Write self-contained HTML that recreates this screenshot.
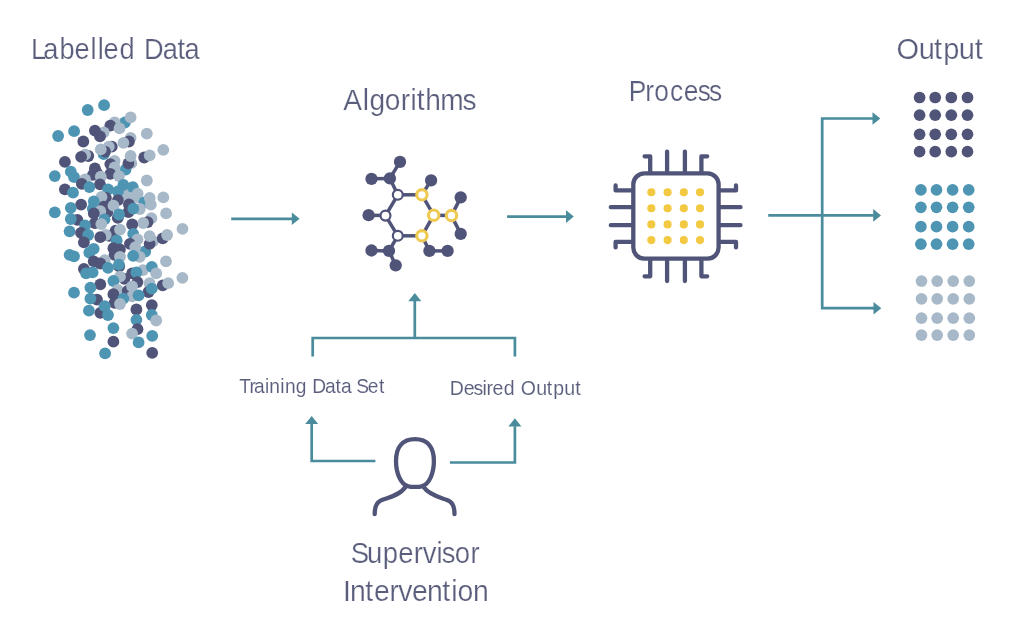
<!DOCTYPE html>
<html><head><meta charset="utf-8"><title>Supervised learning</title>
<style>
html,body{margin:0;padding:0;background:#fff;}
body{width:1024px;height:639px;overflow:hidden;font-family:"Liberation Sans",sans-serif;}
svg{display:block;opacity:0.999;will-change:opacity;filter:blur(0.35px)}
</style></head><body>
<svg width="1024" height="639" viewBox="0 0 1024 639">
<rect width="1024" height="639" fill="#fff"/>
<g id="scatter"><g transform="translate(0.3,0.7)">
<circle cx="87.4" cy="109.3" r="5.9" fill="#4e95b3"/>
<circle cx="103.8" cy="104.5" r="5.9" fill="#4e95b3"/>
<circle cx="124.6" cy="121.8" r="5.9" fill="#4e95b3"/>
<circle cx="114.3" cy="121.8" r="5.9" fill="#a7b9c8"/>
<circle cx="130.3" cy="116.7" r="5.9" fill="#a7b9c8"/>
<circle cx="110" cy="125" r="5.9" fill="#515479"/>
<circle cx="119.2" cy="127.7" r="5.9" fill="#a7b9c8"/>
<circle cx="57.8" cy="135.3" r="5.9" fill="#4e95b3"/>
<circle cx="73.8" cy="130.5" r="5.9" fill="#4e95b3"/>
<circle cx="103.4" cy="131.6" r="5.9" fill="#a7b9c8"/>
<circle cx="94.6" cy="129.9" r="5.9" fill="#515479"/>
<circle cx="99.7" cy="135.6" r="5.9" fill="#515479"/>
<circle cx="146.5" cy="132.9" r="5.9" fill="#a7b9c8"/>
<circle cx="130.3" cy="137.1" r="5.9" fill="#a7b9c8"/>
<circle cx="128.6" cy="140.8" r="5.9" fill="#515479"/>
<circle cx="123.1" cy="142.1" r="5.9" fill="#a7b9c8"/>
<circle cx="83" cy="140.8" r="5.9" fill="#515479"/>
<circle cx="103.4" cy="153.5" r="5.9" fill="#4e95b3"/>
<circle cx="111.5" cy="146" r="5.9" fill="#515479"/>
<circle cx="108.5" cy="146" r="5.9" fill="#a7b9c8"/>
<circle cx="104.7" cy="150.9" r="5.9" fill="#515479"/>
<circle cx="100.5" cy="148.7" r="5.9" fill="#a7b9c8"/>
<circle cx="163" cy="149.1" r="5.9" fill="#a7b9c8"/>
<circle cx="88" cy="155.3" r="5.9" fill="#515479"/>
<circle cx="84.8" cy="154" r="5.9" fill="#a7b9c8"/>
<circle cx="80.8" cy="156.2" r="5.9" fill="#515479"/>
<circle cx="143.9" cy="156.8" r="5.9" fill="#515479"/>
<circle cx="149.4" cy="154.6" r="5.9" fill="#a7b9c8"/>
<circle cx="114.3" cy="160.1" r="5.9" fill="#a7b9c8"/>
<circle cx="110" cy="163.4" r="5.9" fill="#515479"/>
<circle cx="125.3" cy="168.9" r="5.9" fill="#4e95b3"/>
<circle cx="131" cy="162.5" r="5.9" fill="#a7b9c8"/>
<circle cx="128.1" cy="162.7" r="5.9" fill="#515479"/>
<circle cx="130.3" cy="155.3" r="5.9" fill="#a7b9c8"/>
<circle cx="64.6" cy="161.2" r="5.9" fill="#515479"/>
<circle cx="114.3" cy="166.7" r="5.9" fill="#a7b9c8"/>
<circle cx="94.6" cy="167.8" r="5.9" fill="#515479"/>
<circle cx="70.5" cy="171" r="5.9" fill="#4e95b3"/>
<circle cx="54.5" cy="175.4" r="5.9" fill="#4e95b3"/>
<circle cx="73.8" cy="176.5" r="5.9" fill="#4e95b3"/>
<circle cx="92.6" cy="174.2" r="5.9" fill="#515479"/>
<circle cx="96.8" cy="172.5" r="5.9" fill="#515479"/>
<circle cx="110" cy="173.2" r="5.9" fill="#515479"/>
<circle cx="100.5" cy="175.9" r="5.9" fill="#a7b9c8"/>
<circle cx="118.7" cy="175.4" r="5.9" fill="#a7b9c8"/>
<circle cx="146.5" cy="179.8" r="5.9" fill="#a7b9c8"/>
<circle cx="84.8" cy="178.7" r="5.9" fill="#a7b9c8"/>
<circle cx="81.5" cy="183.1" r="5.9" fill="#515479"/>
<circle cx="99.7" cy="183.6" r="5.9" fill="#515479"/>
<circle cx="89.1" cy="186.4" r="5.9" fill="#4e95b3"/>
<circle cx="124.8" cy="193.5" r="5.9" fill="#a7b9c8"/>
<circle cx="133" cy="198" r="5.9" fill="#a7b9c8"/>
<circle cx="123.1" cy="184.2" r="5.9" fill="#4e95b3"/>
<circle cx="132.5" cy="186.4" r="5.9" fill="#4e95b3"/>
<circle cx="107.8" cy="188.6" r="5.9" fill="#4e95b3"/>
<circle cx="117.6" cy="190.8" r="5.9" fill="#4e95b3"/>
<circle cx="64.6" cy="188.6" r="5.9" fill="#515479"/>
<circle cx="72.7" cy="191.9" r="5.9" fill="#4e95b3"/>
<circle cx="137.3" cy="193" r="5.9" fill="#a7b9c8"/>
<circle cx="105.6" cy="197.3" r="5.9" fill="#515479"/>
<circle cx="101.2" cy="196.2" r="5.9" fill="#a7b9c8"/>
<circle cx="143.9" cy="201.7" r="5.9" fill="#4e95b3"/>
<circle cx="149.4" cy="197.3" r="5.9" fill="#a7b9c8"/>
<circle cx="150.5" cy="204" r="5.9" fill="#a7b9c8"/>
<circle cx="163" cy="196.7" r="5.9" fill="#a7b9c8"/>
<circle cx="117.6" cy="199.5" r="5.9" fill="#515479"/>
<circle cx="103.5" cy="206" r="5.9" fill="#515479"/>
<circle cx="107" cy="211.5" r="5.9" fill="#515479"/>
<circle cx="93.5" cy="200.6" r="5.9" fill="#4e95b3"/>
<circle cx="80.8" cy="203.9" r="5.9" fill="#515479"/>
<circle cx="70.5" cy="207.2" r="5.9" fill="#4e95b3"/>
<circle cx="113.2" cy="205" r="5.9" fill="#a7b9c8"/>
<circle cx="128.6" cy="203.8" r="5.9" fill="#515479"/>
<circle cx="128" cy="211.5" r="5.9" fill="#515479"/>
<circle cx="139.5" cy="208.3" r="5.9" fill="#a7b9c8"/>
<circle cx="133" cy="208" r="5.9" fill="#4e95b3"/>
<circle cx="54.5" cy="211.6" r="5.9" fill="#4e95b3"/>
<circle cx="92.5" cy="208" r="5.9" fill="#4e95b3"/>
<circle cx="100" cy="210.5" r="5.9" fill="#a7b9c8"/>
<circle cx="93.5" cy="212.7" r="5.9" fill="#515479"/>
<circle cx="117.5" cy="217.2" r="5.9" fill="#515479"/>
<circle cx="118.7" cy="213.8" r="5.9" fill="#4e95b3"/>
<circle cx="104.2" cy="218.6" r="5.9" fill="#4e95b3"/>
<circle cx="165.8" cy="212.7" r="5.9" fill="#a7b9c8"/>
<circle cx="151.1" cy="217.5" r="5.9" fill="#a7b9c8"/>
<circle cx="147.3" cy="221.4" r="5.9" fill="#515479"/>
<circle cx="142.9" cy="222.3" r="5.9" fill="#a7b9c8"/>
<circle cx="77.1" cy="219.2" r="5.9" fill="#515479"/>
<circle cx="70.5" cy="218.3" r="5.9" fill="#4e95b3"/>
<circle cx="94.5" cy="222.5" r="5.9" fill="#515479"/>
<circle cx="84.8" cy="224.7" r="5.9" fill="#4e95b3"/>
<circle cx="101" cy="223.4" r="5.9" fill="#a7b9c8"/>
<circle cx="131.9" cy="223.8" r="5.9" fill="#515479"/>
<circle cx="182.2" cy="228.2" r="5.9" fill="#a7b9c8"/>
</g><g transform="translate(0.2,0.8)">
<circle cx="69.4" cy="230.5" r="5.9" fill="#4e95b3"/>
<circle cx="80.8" cy="232" r="5.9" fill="#515479"/>
<circle cx="88" cy="234.2" r="5.9" fill="#4e95b3"/>
<circle cx="115.4" cy="229.9" r="5.9" fill="#515479"/>
<circle cx="119.8" cy="228.8" r="5.9" fill="#a7b9c8"/>
<circle cx="109" cy="235" r="5.9" fill="#515479"/>
<circle cx="105.6" cy="234.2" r="5.9" fill="#a7b9c8"/>
<circle cx="100.1" cy="236.4" r="5.9" fill="#515479"/>
<circle cx="133" cy="233.1" r="5.9" fill="#4e95b3"/>
<circle cx="145" cy="250.7" r="5.9" fill="#4e95b3"/>
<circle cx="152.9" cy="240.3" r="5.9" fill="#a7b9c8"/>
<circle cx="149.4" cy="243" r="5.9" fill="#515479"/>
<circle cx="137.3" cy="238.6" r="5.9" fill="#a7b9c8"/>
<circle cx="149.4" cy="235.3" r="5.9" fill="#a7b9c8"/>
<circle cx="162.5" cy="237.5" r="5.9" fill="#515479"/>
<circle cx="166.9" cy="234.2" r="5.9" fill="#a7b9c8"/>
<circle cx="83.7" cy="241.5" r="5.9" fill="#515479"/>
<circle cx="116.5" cy="239.7" r="5.9" fill="#4e95b3"/>
<circle cx="129.7" cy="243" r="5.9" fill="#515479"/>
<circle cx="135.1" cy="246.3" r="5.9" fill="#a7b9c8"/>
<circle cx="93.5" cy="248" r="5.9" fill="#4e95b3"/>
<circle cx="89.1" cy="251.8" r="5.9" fill="#4e95b3"/>
<circle cx="119.7" cy="248.6" r="5.9" fill="#515479"/>
<circle cx="113.2" cy="247.4" r="5.9" fill="#515479"/>
<circle cx="69.4" cy="254" r="5.9" fill="#4e95b3"/>
<circle cx="73.8" cy="255.5" r="5.9" fill="#4e95b3"/>
<circle cx="114.3" cy="254" r="5.9" fill="#515479"/>
<circle cx="119.8" cy="256.1" r="5.9" fill="#a7b9c8"/>
<circle cx="139.5" cy="256.1" r="5.9" fill="#a7b9c8"/>
<circle cx="133" cy="255" r="5.9" fill="#4e95b3"/>
<circle cx="165.8" cy="260.5" r="5.9" fill="#a7b9c8"/>
<circle cx="104.5" cy="259.4" r="5.9" fill="#a7b9c8"/>
<circle cx="93.5" cy="260.5" r="5.9" fill="#515479"/>
<circle cx="100.1" cy="262.7" r="5.9" fill="#515479"/>
<circle cx="119" cy="265.5" r="5.9" fill="#515479"/>
<circle cx="118.7" cy="263.8" r="5.9" fill="#4e95b3"/>
<circle cx="107.8" cy="267.1" r="5.9" fill="#4e95b3"/>
<circle cx="83.7" cy="268.2" r="5.9" fill="#515479"/>
<circle cx="85.9" cy="272.6" r="5.9" fill="#4e95b3"/>
<circle cx="92.4" cy="271.5" r="5.9" fill="#4e95b3"/>
<circle cx="131.9" cy="272.6" r="5.9" fill="#515479"/>
<circle cx="142.8" cy="269.3" r="5.9" fill="#a7b9c8"/>
<circle cx="136.2" cy="271.5" r="5.9" fill="#4e95b3"/>
<circle cx="151.6" cy="266" r="5.9" fill="#4e95b3"/>
<circle cx="156" cy="272.6" r="5.9" fill="#a7b9c8"/>
<circle cx="124.2" cy="278" r="5.9" fill="#515479"/>
<circle cx="119.8" cy="275.9" r="5.9" fill="#a7b9c8"/>
<circle cx="113.2" cy="280.2" r="5.9" fill="#4e95b3"/>
<circle cx="182.2" cy="277" r="5.9" fill="#a7b9c8"/>
<circle cx="162.5" cy="284.6" r="5.9" fill="#515479"/>
<circle cx="168" cy="282.4" r="5.9" fill="#a7b9c8"/>
<circle cx="137.3" cy="281.3" r="5.9" fill="#515479"/>
<circle cx="149.4" cy="282.4" r="5.9" fill="#a7b9c8"/>
<circle cx="100.1" cy="283.5" r="5.9" fill="#515479"/>
<circle cx="90.2" cy="286.8" r="5.9" fill="#4e95b3"/>
<circle cx="148.3" cy="291.2" r="5.9" fill="#515479"/>
<circle cx="151.6" cy="287.9" r="5.9" fill="#4e95b3"/>
<circle cx="117.6" cy="289" r="5.9" fill="#a7b9c8"/>
<circle cx="127.5" cy="290.1" r="5.9" fill="#515479"/>
<circle cx="131.9" cy="285.7" r="5.9" fill="#a7b9c8"/>
<circle cx="73.8" cy="291.9" r="5.9" fill="#4e95b3"/>
<circle cx="113.2" cy="293.4" r="5.9" fill="#515479"/>
<circle cx="131.9" cy="295.6" r="5.9" fill="#a7b9c8"/>
<circle cx="138.4" cy="294.5" r="5.9" fill="#4e95b3"/>
<circle cx="96.8" cy="298.9" r="5.9" fill="#515479"/>
<circle cx="90.2" cy="297.8" r="5.9" fill="#4e95b3"/>
<circle cx="123.1" cy="297.8" r="5.9" fill="#4e95b3"/>
<circle cx="114.3" cy="302.1" r="5.9" fill="#515479"/>
<circle cx="119.8" cy="303.2" r="5.9" fill="#a7b9c8"/>
<circle cx="100.1" cy="312" r="5.9" fill="#515479"/>
<circle cx="104.5" cy="305.4" r="5.9" fill="#4e95b3"/>
<circle cx="151.6" cy="304.3" r="5.9" fill="#515479"/>
<circle cx="136.2" cy="308.7" r="5.9" fill="#515479"/>
<circle cx="88.7" cy="309.8" r="5.9" fill="#4e95b3"/>
<circle cx="107.8" cy="314.2" r="5.9" fill="#4e95b3"/>
<circle cx="151.6" cy="314.2" r="5.9" fill="#4e95b3"/>
<circle cx="136.2" cy="319" r="5.9" fill="#4e95b3"/>
<circle cx="156" cy="319.7" r="5.9" fill="#a7b9c8"/>
<circle cx="113.2" cy="327.3" r="5.9" fill="#4e95b3"/>
<circle cx="137.3" cy="328.4" r="5.9" fill="#515479"/>
<circle cx="131.9" cy="332.8" r="5.9" fill="#a7b9c8"/>
<circle cx="89.8" cy="334.3" r="5.9" fill="#4e95b3"/>
<circle cx="152" cy="335" r="5.9" fill="#4e95b3"/>
<circle cx="113.2" cy="340.9" r="5.9" fill="#515479"/>
<circle cx="138.4" cy="341.6" r="5.9" fill="#4e95b3"/>
<circle cx="104.9" cy="352.5" r="5.9" fill="#4e95b3"/>
<circle cx="152" cy="352.1" r="5.9" fill="#515479"/>
</g></g>
<g id="arrows">
<line x1="231.2" y1="218.8" x2="292.3" y2="218.8" stroke="#4a8b9c" stroke-width="2.7"/><polygon points="291.8,212.5 299.6,218.8 291.8,225.10000000000002" fill="#4a8b9c"/>
<line x1="507.1" y1="216.6" x2="566.5" y2="216.6" stroke="#4a8b9c" stroke-width="2.7"/><polygon points="566.0,210.29999999999998 573.8,216.6 566.0,222.9" fill="#4a8b9c"/>
<path d="M873,118.5 H822.2 V308.2 H874" fill="none" stroke="#4a8b9c" stroke-width="2.7" stroke-linejoin="miter"/>
<line x1="873" y1="118.5" x2="873.0" y2="118.5" stroke="#4a8b9c" stroke-width="2.7"/><polygon points="872.5,112.2 880.3,118.5 872.5,124.8" fill="#4a8b9c"/>
<line x1="768.2" y1="215.4" x2="873.7" y2="215.4" stroke="#4a8b9c" stroke-width="2.7"/><polygon points="873.2,209.1 881,215.4 873.2,221.70000000000002" fill="#4a8b9c"/>
<line x1="873.5" y1="308.2" x2="874.0" y2="308.2" stroke="#4a8b9c" stroke-width="2.7"/><polygon points="873.5,301.9 881.3,308.2 873.5,314.5" fill="#4a8b9c"/>
<path d="M312.7,356.5 V338 H514.9 V356.5" fill="none" stroke="#4a8b9c" stroke-width="2.7"/>
<line x1="414.8" y1="338" x2="414.8" y2="300.7" stroke="#4a8b9c" stroke-width="2.7"/><polygon points="408.3,301.2 414.8,293 421.3,301.2" fill="#4a8b9c"/>
<path d="M375.4,461 H311.7 V424" fill="none" stroke="#4a8b9c" stroke-width="2.7"/>
<line x1="311.7" y1="424" x2="311.7" y2="423.59999999999997" stroke="#4a8b9c" stroke-width="2.7"/><polygon points="305.2,424.09999999999997 311.7,415.9 318.2,424.09999999999997" fill="#4a8b9c"/>
<path d="M449.9,462.5 H514.9 V426.5" fill="none" stroke="#4a8b9c" stroke-width="2.7"/>
<line x1="514.9" y1="426.5" x2="514.9" y2="426.0" stroke="#4a8b9c" stroke-width="2.7"/><polygon points="508.4,426.5 514.9,418.3 521.4,426.5" fill="#4a8b9c"/>
</g>
<g id="molecule">
<line x1="400" y1="161.9" x2="389.9" y2="178.4" stroke="#515479" stroke-width="3.5"/>
<line x1="371.5" y1="178.8" x2="389.9" y2="178.4" stroke="#515479" stroke-width="3.5"/>
<line x1="389.9" y1="178.4" x2="397.8" y2="194.8" stroke="#515479" stroke-width="3.5"/>
<line x1="397.8" y1="194.8" x2="421.9" y2="194.8" stroke="#515479" stroke-width="3.5"/>
<line x1="421.9" y1="194.8" x2="433.7" y2="215.2" stroke="#515479" stroke-width="3.5"/>
<line x1="433.7" y1="215.2" x2="421.9" y2="235.8" stroke="#515479" stroke-width="3.5"/>
<line x1="421.9" y1="235.8" x2="397.8" y2="235.8" stroke="#515479" stroke-width="3.5"/>
<line x1="397.8" y1="235.8" x2="385.5" y2="215.6" stroke="#515479" stroke-width="3.5"/>
<line x1="385.5" y1="215.6" x2="397.8" y2="194.8" stroke="#515479" stroke-width="3.5"/>
<line x1="421.9" y1="194.8" x2="431.1" y2="180.4" stroke="#515479" stroke-width="3.5"/>
<line x1="433.7" y1="215.2" x2="451.5" y2="215.6" stroke="#515479" stroke-width="3.5"/>
<line x1="451.5" y1="215.6" x2="460.7" y2="197.4" stroke="#515479" stroke-width="3.5"/>
<line x1="451.5" y1="215.6" x2="460.7" y2="233.9" stroke="#515479" stroke-width="3.5"/>
<line x1="368.6" y1="215.2" x2="385.5" y2="215.6" stroke="#515479" stroke-width="3.5"/>
<line x1="397.8" y1="235.8" x2="389" y2="250.9" stroke="#515479" stroke-width="3.5"/>
<line x1="389" y1="250.9" x2="371.5" y2="250.5" stroke="#515479" stroke-width="3.5"/>
<line x1="389" y1="250.9" x2="395.7" y2="265.3" stroke="#515479" stroke-width="3.5"/>
<line x1="421.9" y1="235.8" x2="429.4" y2="250.9" stroke="#515479" stroke-width="3.5"/>
<line x1="429.4" y1="250.9" x2="447.6" y2="250.9" stroke="#515479" stroke-width="3.5"/>
<circle cx="400" cy="161.9" r="6.15" fill="#515479"/>
<circle cx="389.9" cy="178.4" r="6.15" fill="#515479"/>
<circle cx="371.5" cy="178.8" r="6.15" fill="#515479"/>
<circle cx="431.1" cy="180.4" r="6.15" fill="#515479"/>
<circle cx="460.7" cy="197.4" r="6.15" fill="#515479"/>
<circle cx="460.7" cy="233.9" r="6.15" fill="#515479"/>
<circle cx="368.6" cy="215.2" r="6.15" fill="#515479"/>
<circle cx="371.5" cy="250.5" r="6.15" fill="#515479"/>
<circle cx="389" cy="250.9" r="6.15" fill="#515479"/>
<circle cx="395.7" cy="265.3" r="6.15" fill="#515479"/>
<circle cx="429.4" cy="250.9" r="6.15" fill="#515479"/>
<circle cx="447.6" cy="250.9" r="6.15" fill="#515479"/>
<circle cx="397.8" cy="194.8" r="4.95" fill="#fff" stroke="#515479" stroke-width="2.2"/>
<circle cx="397.8" cy="235.8" r="4.95" fill="#fff" stroke="#515479" stroke-width="2.2"/>
<circle cx="385.5" cy="215.6" r="4.95" fill="#fff" stroke="#515479" stroke-width="2.2"/>
<circle cx="421.9" cy="194.8" r="5.2" fill="#fff" stroke="#efca52" stroke-width="3.1"/>
<circle cx="433.7" cy="215.2" r="5.2" fill="#fff" stroke="#efca52" stroke-width="3.1"/>
<circle cx="421.9" cy="235.8" r="5.2" fill="#fff" stroke="#efca52" stroke-width="3.1"/>
<circle cx="451.5" cy="215.6" r="5.2" fill="#fff" stroke="#efca52" stroke-width="3.1"/>
</g>
<g id="chip" fill="none" stroke="#515479" stroke-width="4.3" stroke-linecap="round" stroke-linejoin="round">
<rect x="633.3" y="173.4" width="85.3" height="85.2" rx="11" ry="11"/>
<path d="M644.6,156.3 H650.2 V172 M667.1,151.6 V172 M684.9,151.6 V172 M707.2,156.3 H701.4 V172"/>
<path d="M644.6,276.3 H650.2 V260 M667.1,281 V260 M684.9,281 V260 M707.2,276.3 H701.4 V260"/>
<path d="M615.6,185.4 V190.4 H631.5 M610.8,207.2 H631.5 M610.8,225.2 H631.5 M615.6,247.4 V241.9 H631.5"/>
<path d="M736,185.4 V190.4 H720.3 M740.5,207.2 H720.3 M740.5,225.2 H720.3 M736,247.4 V241.9 H720.3"/>
</g>
<g fill="#f2c941">
<circle cx="651.3" cy="192.3" r="4.05"/>
<circle cx="667.6" cy="192.3" r="4.05"/>
<circle cx="683.8" cy="192.3" r="4.05"/>
<circle cx="700" cy="192.3" r="4.05"/>
<circle cx="651.3" cy="208.3" r="4.05"/>
<circle cx="667.6" cy="208.3" r="4.05"/>
<circle cx="683.8" cy="208.3" r="4.05"/>
<circle cx="700" cy="208.3" r="4.05"/>
<circle cx="651.3" cy="224.4" r="4.05"/>
<circle cx="667.6" cy="224.4" r="4.05"/>
<circle cx="683.8" cy="224.4" r="4.05"/>
<circle cx="700" cy="224.4" r="4.05"/>
<circle cx="651.3" cy="240.1" r="4.05"/>
<circle cx="667.6" cy="240.1" r="4.05"/>
<circle cx="683.8" cy="240.1" r="4.05"/>
<circle cx="700" cy="240.1" r="4.05"/>
</g>
<g id="out">
<circle cx="919.6" cy="97.5" r="5.85" fill="#515479"/><circle cx="935.2" cy="97.5" r="5.85" fill="#515479"/><circle cx="951.3" cy="97.5" r="5.85" fill="#515479"/><circle cx="967.5" cy="97.5" r="5.85" fill="#515479"/><circle cx="919.6" cy="115.2" r="5.85" fill="#515479"/><circle cx="935.2" cy="115.2" r="5.85" fill="#515479"/><circle cx="951.3" cy="115.2" r="5.85" fill="#515479"/><circle cx="967.5" cy="115.2" r="5.85" fill="#515479"/><circle cx="919.6" cy="134.3" r="5.85" fill="#515479"/><circle cx="935.2" cy="134.3" r="5.85" fill="#515479"/><circle cx="951.3" cy="134.3" r="5.85" fill="#515479"/><circle cx="967.5" cy="134.3" r="5.85" fill="#515479"/><circle cx="919.6" cy="151.7" r="5.85" fill="#515479"/><circle cx="935.2" cy="151.7" r="5.85" fill="#515479"/><circle cx="951.3" cy="151.7" r="5.85" fill="#515479"/><circle cx="967.5" cy="151.7" r="5.85" fill="#515479"/>
<circle cx="920.9" cy="189.9" r="5.85" fill="#4e95b3"/><circle cx="936.5" cy="189.9" r="5.85" fill="#4e95b3"/><circle cx="952.6" cy="189.9" r="5.85" fill="#4e95b3"/><circle cx="968.7" cy="189.9" r="5.85" fill="#4e95b3"/><circle cx="920.9" cy="207.3" r="5.85" fill="#4e95b3"/><circle cx="936.5" cy="207.3" r="5.85" fill="#4e95b3"/><circle cx="952.6" cy="207.3" r="5.85" fill="#4e95b3"/><circle cx="968.7" cy="207.3" r="5.85" fill="#4e95b3"/><circle cx="920.9" cy="226.7" r="5.85" fill="#4e95b3"/><circle cx="936.5" cy="226.7" r="5.85" fill="#4e95b3"/><circle cx="952.6" cy="226.7" r="5.85" fill="#4e95b3"/><circle cx="968.7" cy="226.7" r="5.85" fill="#4e95b3"/><circle cx="920.9" cy="244.2" r="5.85" fill="#4e95b3"/><circle cx="936.5" cy="244.2" r="5.85" fill="#4e95b3"/><circle cx="952.6" cy="244.2" r="5.85" fill="#4e95b3"/><circle cx="968.7" cy="244.2" r="5.85" fill="#4e95b3"/>
<circle cx="921.5" cy="281.1" r="5.85" fill="#a7b9c8"/><circle cx="937.2" cy="281.1" r="5.85" fill="#a7b9c8"/><circle cx="953.2" cy="281.1" r="5.85" fill="#a7b9c8"/><circle cx="969.3" cy="281.1" r="5.85" fill="#a7b9c8"/><circle cx="921.5" cy="298.8" r="5.85" fill="#a7b9c8"/><circle cx="937.2" cy="298.8" r="5.85" fill="#a7b9c8"/><circle cx="953.2" cy="298.8" r="5.85" fill="#a7b9c8"/><circle cx="969.3" cy="298.8" r="5.85" fill="#a7b9c8"/><circle cx="921.5" cy="318.2" r="5.85" fill="#a7b9c8"/><circle cx="937.2" cy="318.2" r="5.85" fill="#a7b9c8"/><circle cx="953.2" cy="318.2" r="5.85" fill="#a7b9c8"/><circle cx="969.3" cy="318.2" r="5.85" fill="#a7b9c8"/><circle cx="921.5" cy="335.1" r="5.85" fill="#a7b9c8"/><circle cx="937.2" cy="335.1" r="5.85" fill="#a7b9c8"/><circle cx="953.2" cy="335.1" r="5.85" fill="#a7b9c8"/><circle cx="969.3" cy="335.1" r="5.85" fill="#a7b9c8"/>
</g>
<g id="person" fill="none" stroke="#515479" stroke-width="4.3" stroke-linecap="round" stroke-linejoin="round">
<path d="M415,439.1 C402.5,439.1 396,447 396,461 C396,473.5 401,484.5 408,486.2 C411,487.2 419,487.2 422,486.2 C429,484.5 433.9,473.5 433.9,461 C433.9,447 427.5,439.1 415,439.1 Z"/>
<path d="M405.7,486.8 C400,495 390,497.2 383.8,499.3 C378,501.3 374.7,504 374.7,514.2"/>
<path d="M423.4,486.8 C429,495 440,497.5 446.4,499.8 C452,501.8 454.5,505 454.5,514.2"/>
</g>
<g id="text" font-family="'Liberation Sans', sans-serif" style="will-change:transform">
<text transform="matrix(0.939,0,0,1,0,0)" x="32.92 46.01 63.44 79.45 96.29 104.12 110.12 127.19 143.32 153.25 173.22 188.94 196.59" y="58.8" font-size="29" fill="#5a5e7c" stroke="#fff" stroke-width="0.22">Labelled Data</text>
<text transform="matrix(0.97,0,0,1,0,0)" x="353.99 373.99 380.87 396.73 413.11 423.23 429.62 438.47 453.89 476.74" y="110.4" font-size="29" fill="#5a5e7c" stroke="#fff" stroke-width="0.22">Algorithms</text>
<text transform="matrix(0.909,0,0,1,0,0)" x="691.77 709.85 719.82 737.02 752.09 767.73 780.05" y="101.4" font-size="29" fill="#5a5e7c" stroke="#fff" stroke-width="0.22">Process</text>
<text transform="matrix(1.0,0,0,1,0,0)" x="896.38 918.81 933.96 943.16 958.86 974.76" y="59.4" font-size="29" fill="#5a5e7c" stroke="#fff" stroke-width="0.22">Output</text>
<text transform="matrix(0.947,0,0,1,0,0)" x="370.27 387.47 404.12 420.53 436.95 446.34 460.88 466.42 480.16 496.88" y="563.3" font-size="29" fill="#5a5e7c" stroke="#fff" stroke-width="0.22">Supervisor</text>
<text transform="matrix(0.979,0,0,1,0,0)" x="350.36 357.39 373.18 382.00 397.87 406.90 420.77 436.14 451.83 460.88 467.37 483.28" y="601.5" font-size="29" fill="#5a5e7c" stroke="#fff" stroke-width="0.22">Intervention</text>
<text transform="matrix(0.984,0,0,1,0,0)" x="243.19 253.53 258.19 269.43 273.68 284.88 289.58 300.69 311.54 317.37 330.39 340.96 346.50 357.35 362.10 373.86 385.07" y="393.0" font-size="19.5" fill="#5a5e7c" stroke="#fff" stroke-width="0.1">Training Data Set</text>
<text transform="matrix(1.0,0,0,1,0,0)" x="449.78 463.80 473.41 482.49 486.42 492.50 503.85 514.69 520.72 536.29 546.76 553.26 564.14 575.16" y="395.4" font-size="19.5" fill="#5a5e7c" stroke="#fff" stroke-width="0.1">Desired Output</text>
</g>
</svg>
</body></html>
